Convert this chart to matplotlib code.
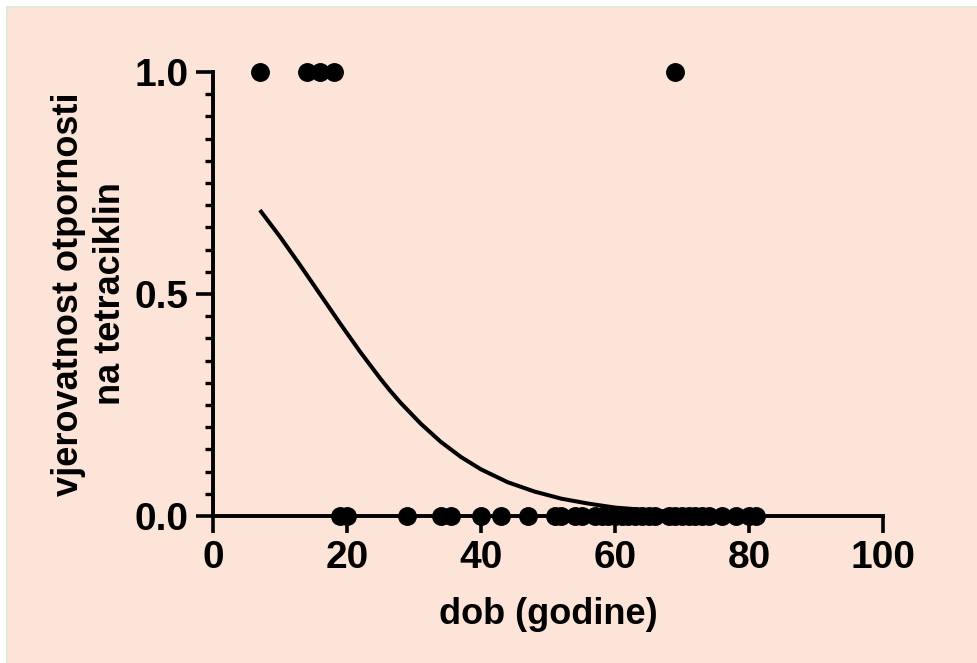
import matplotlib
matplotlib.use("Agg")
import matplotlib.pyplot as plt
from matplotlib.patches import Rectangle
from matplotlib.ticker import MultipleLocator

plt.rcParams['font.family'] = ['Liberation Sans', 'DejaVu Sans']
plt.rcParams['font.weight'] = 'bold'

# observed ages: resistant (1) and not resistant (0)
age_resistant = [7, 14, 16, 18, 69]
age_sensitive = [19, 20, 29, 34, 35.5, 40, 43, 47, 51, 52, 54, 55, 57, 58,
                 59, 60, 61, 62, 63, 64, 65, 66, 68, 69, 70, 71, 72, 73, 74,
                 76, 78, 80, 81]

# fitted probability curve
curve_age = [7, 8.5, 10, 11.5, 13, 14.5, 16, 17.5, 19, 20.5, 22, 23.5, 25,
             26.5, 28, 31, 34, 37, 40, 44, 48, 52, 56, 60, 65, 70, 75, 81]
curve_prob = [0.689, 0.659, 0.629, 0.597, 0.565, 0.532, 0.499, 0.466, 0.433,
              0.401, 0.369, 0.339, 0.309, 0.281, 0.255, 0.208, 0.167, 0.133,
              0.105, 0.076, 0.055, 0.039, 0.028, 0.019, 0.013, 0.008, 0.005,
              0.003]

x_ticks = [0, 20, 40, 60, 80, 100]
y_ticks = [0.0, 0.5, 1.0]

fig = plt.figure(figsize=(9.77, 6.63), dpi=100, facecolor='white')

# peach panel with thin green edge on the top/left
fig.add_artist(Rectangle((7 / 977, 0), 1, 1 - 7 / 663,
                         transform=fig.transFigure, facecolor='#FCE4D8',
                         edgecolor='none', zorder=-10))
fig.add_artist(plt.Line2D([7 / 977, 7 / 977], [0, 1 - 7 / 663],
                          transform=fig.transFigure, color='#DDEBD5', lw=1.2,
                          zorder=-9))
fig.add_artist(plt.Line2D([7 / 977, 1], [1 - 7 / 663, 1 - 7 / 663],
                          transform=fig.transFigure, color='#DDEBD5', lw=1.2,
                          zorder=-9))

ax = fig.add_axes([213 / 977, 1 - 516 / 663, 670 / 977, 444 / 663])
ax.set_facecolor('none')

ax.plot(curve_age, curve_prob, color='black', lw=2.9, solid_capstyle='butt',
        solid_joinstyle='round', zorder=3)
ax.scatter(age_resistant, [1] * len(age_resistant), s=185, color='black',
           clip_on=False, zorder=4, linewidths=0)
ax.scatter(age_sensitive, [0] * len(age_sensitive), s=185, color='black',
           clip_on=False, zorder=4, linewidths=0)

ax.set_xlim(0, 100)
ax.set_ylim(0, 1)
ax.set_xticks(x_ticks)
ax.set_yticks(y_ticks)
ax.set_yticklabels(['0.0', '0.5', '1.0'])
ax.yaxis.set_minor_locator(MultipleLocator(0.05))

for side in ['top', 'right']:
    ax.spines[side].set_visible(False)
for side in ['left', 'bottom']:
    ax.spines[side].set_linewidth(2.8)

ax.tick_params(axis='both', which='major', length=12.5, width=2.6,
               labelsize=28, pad=5, direction='out')
ax.tick_params(axis='y', which='minor', length=6, width=2.4, direction='out')

ax.set_xlabel('dob (godine)', fontsize=26, fontweight='bold', labelpad=15)
ax.set_ylabel('vjerovatnost otpornosti\nna tetraciklin', fontsize=26,
              fontweight='bold', labelpad=5, linespacing=1.25)

fig.savefig('out.png', dpi=100, facecolor='white')
